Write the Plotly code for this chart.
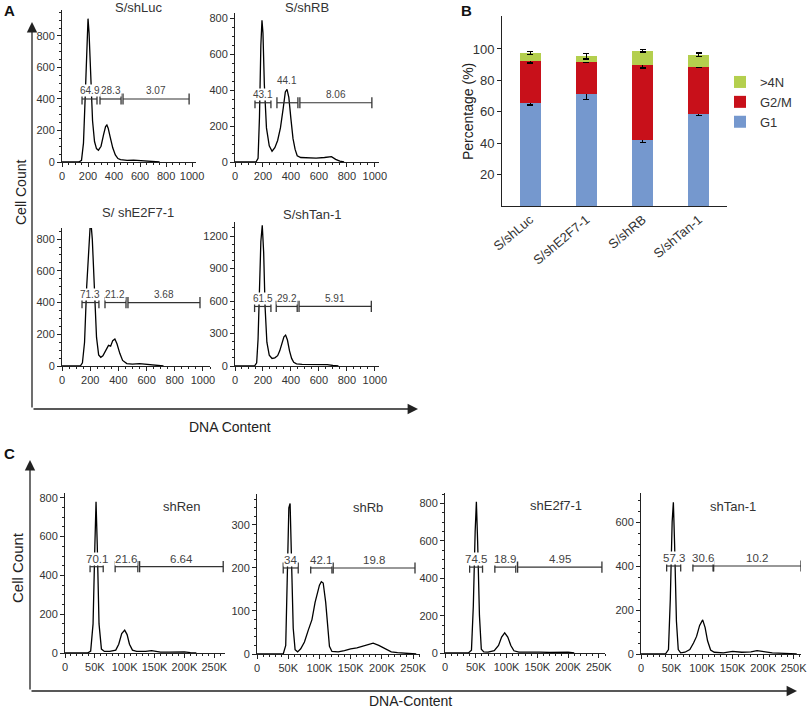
import plotly.graph_objects as go

W, H = 810, 709
FONT = "Liberation Sans, Arial, sans-serif"
AX = "#222222"
TXT = "#333333"

# ---------------- Panel A : DNA content histograms ----------------
A1_x = [0, 130, 150, 165, 180, 192, 200, 208, 220, 235, 250, 265, 280, 300, 320, 335, 345, 355, 370, 390, 410, 430, 450, 500, 550, 600, 650, 700, 750]
A1_y = [0, 0, 10, 120, 450, 800, 910, 820, 520, 260, 130, 85, 75, 100, 175, 225, 235, 215, 160, 90, 45, 22, 15, 10, 12, 8, 6, 3, 0]
A2_x = [0, 150, 165, 175, 185, 193, 200, 210, 225, 245, 265, 285, 305, 325, 345, 360, 372, 385, 400, 415, 430, 445, 470, 520, 580, 640, 690, 720, 750, 780]
A2_y = [0, 0, 20, 250, 650, 790, 720, 430, 190, 90, 60, 80, 120, 190, 300, 390, 405, 360, 240, 130, 70, 35, 25, 22, 22, 25, 30, 15, 5, 0]
A3_x = [0, 130, 145, 160, 175, 190, 203, 215, 230, 245, 260, 275, 290, 310, 330, 345, 360, 375, 390, 410, 430, 460, 500, 550, 600, 650, 700, 720]
A3_y = [0, 0, 20, 150, 500, 830, 930, 800, 450, 180, 70, 55, 65, 95, 130, 125, 160, 170, 140, 80, 35, 15, 12, 15, 12, 8, 3, 0]
A4_x = [0, 140, 155, 165, 175, 185, 195, 205, 215, 228, 245, 265, 285, 305, 320, 335, 350, 362, 375, 390, 405, 420, 440, 480, 530, 600, 660, 700, 740]
A4_y = [0, 0, 30, 250, 700, 1150, 1300, 1050, 550, 220, 100, 70, 75, 95, 140, 210, 270, 285, 240, 140, 70, 35, 20, 15, 15, 12, 12, 5, 0]

A_titles = ["S/shLuc", "S/shRB", "S/ shE2F7-1", "S/shTan-1"]
A1_gates = [[154, 269], [292, 454], [469, 977]]
A2_gates = [[143, 257], [300, 450], [464, 979]]
A3_gates = [[142, 262], [305, 454], [468, 979]]
A4_gates = [[140, 257], [295, 445], [458, 975]]
A_gate_levels = [400, 330, 400, 550]
A1_labels = ["64.9", "28.3", "3.07"]
A2_labels = ["43.1", "44.1", "8.06"]
A3_labels = ["71.3", "21.2", "3.68"]
A4_labels = ["61.5", "29.2", "5.91"]

# ---------------- Panel B : stacked percentages ----------------
B_categories = ["S/shLuc", "S/shE2F7-1", "S/shRB", "S/shTan-1"]
B_G1 = [65.5, 71.5, 42.3, 58.5]
B_G2M = [27.1, 20.2, 47.3, 30.2]
B_4N = [4.8, 3.6, 9.3, 7.7]
B_G1_err = [1.2, 3.5, 2.0, 0.8]
B_G2M_err = [1.5, 0.5, 1.7, 0.6]
B_4N_err = [1.0, 1.7, 0.8, 1.0]

# ---------------- Panel C : DNA-content histograms (K units) ----------------
C1_x = [0, 38, 43, 47, 50, 52, 54, 57, 61, 66, 75, 85, 90, 95, 100, 104, 108, 113, 120, 135, 145, 150, 160, 175, 190, 200, 210, 220]
C1_y = [0, 0, 10, 150, 550, 780, 560, 150, 20, 8, 8, 15, 45, 100, 118, 95, 45, 15, 8, 8, 12, 10, 5, 5, 7, 6, 2, 0]
C2_x = [0, 42, 46, 49, 51, 53, 55, 58, 61, 65, 70, 76, 82, 88, 93, 97, 100, 103, 106, 110, 113, 116, 120, 130, 140, 150, 160, 170, 180, 186, 195, 205, 215, 225, 240, 255]
C2_y = [0, 0, 20, 200, 340, 350, 230, 60, 10, 5, 12, 28, 55, 80, 120, 145, 160, 168, 165, 120, 60, 18, 6, 5, 8, 12, 14, 18, 22, 25, 20, 12, 5, 3, 2, 0]
C3_x = [0, 38, 43, 46, 49, 51, 53, 56, 59, 63, 70, 80, 87, 92, 97, 102, 107, 112, 120, 135, 145, 155, 170, 185, 200, 210]
C3_y = [0, 0, 15, 250, 650, 810, 600, 200, 20, 6, 5, 12, 40, 85, 108, 85, 40, 12, 5, 5, 9, 5, 3, 5, 4, 0]
C4_x = [0, 40, 45, 48, 51, 53, 55, 58, 61, 65, 72, 80, 86, 91, 96, 101, 105, 109, 114, 120, 135, 150, 165, 180, 190, 200, 215, 235, 255]
C4_y = [0, 0, 20, 250, 600, 690, 500, 150, 20, 5, 8, 20, 50, 80, 130, 155, 120, 60, 18, 8, 5, 12, 8, 10, 15, 10, 5, 3, 0]

C_titles = ["shRen", "shRb", "shE2f7-1", "shTan-1"]
C1_gates = [[42, 64], [84, 122], [125, 265]]
C2_gates = [[42, 66], [86, 120], [122, 253]]
C3_gates = [[40, 61], [81, 115], [118, 255]]
C4_gates = [[42, 65], [85, 118], [119, 262]]
C_gate_levels = [445, 200, 460, 400]
C1_labels = ["70.1", "21.6", "6.64"]
C2_labels = ["34", "42.1", "19.8"]
C3_labels = ["74.5", "18.9", "4.95"]
C4_labels = ["57.3", "30.6", "10.2"]
C_tick_vals = [0, 50, 100, 150, 200, 250]
C_tick_text = ["0", "50K", "100K", "150K", "200K", "250K"]

fig = go.Figure()
layout = {}
annotations = []


def px(a):
    return a / W


def py(b):
    return 1 - b / H


def axname(i, k):
    return f"{k}axis" if i == 1 else f"{k}axis{i}"


def ref(i, k):
    return k if i == 1 else f"{k}{i}"


def hist_axes(i, xd, yd, xr, yr, ydtick, yminor, xtickvals=None, xticktext=None, xdtick=None, xminor=None, fsize=11):
    common = dict(showline=True, linecolor=AX, linewidth=1, ticks="outside", ticklen=4,
                  tickwidth=1, tickcolor=AX, showgrid=False, zeroline=False, automargin=False,
                  tickfont=dict(size=fsize, color=TXT, family=FONT))
    xa = dict(common, domain=[px(xd[0]), px(xd[1])], range=xr, anchor=ref(i, "y"),
              minor=dict(ticks="outside", ticklen=2, tickcolor=AX, tickmode="linear", tick0=0, dtick=xminor))
    if xtickvals is not None:
        xa.update(tickmode="array", tickvals=xtickvals, ticktext=xticktext)
    else:
        xa.update(tickmode="linear", tick0=0, dtick=xdtick)
    ya = dict(common, domain=[py(yd[1]), py(yd[0])], range=yr, anchor=ref(i, "x"),
              tickmode="linear", tick0=0, dtick=ydtick,
              minor=dict(ticks="outside", ticklen=2, tickcolor=AX, tickmode="linear", tick0=0, dtick=yminor))
    layout[axname(i, "x")] = xa
    layout[axname(i, "y")] = ya


def add_hist(i, xs, ys, gates, level, labels, lab_size, label_shift=None):
    fig.add_trace(go.Scatter(x=xs, y=ys, mode="lines", line=dict(color="black", width=1.3),
                             xaxis=ref(i, "x"), yaxis=ref(i, "y"), showlegend=False, hoverinfo="skip"))
    gx, gy = [], []
    for s, e in gates:
        gx += [s, e, None]
        gy += [level, level, None]
    fig.add_trace(go.Scatter(x=gx, y=gy, mode="lines+markers",
                             line=dict(color="#333333", width=1.2),
                             marker=dict(symbol="line-ns-open", size=8, line=dict(color="#333333", width=1.3)),
                             xaxis=ref(i, "x"), yaxis=ref(i, "y"), showlegend=False, hoverinfo="skip"))
    for k, ((s, e), lab) in enumerate(zip(gates, labels)):
        shift = 8
        if label_shift and k in label_shift:
            shift = label_shift[k]
        annotations.append(dict(x=(s + e) / 2, y=level, xref=ref(i, "x"), yref=ref(i, "y"),
                                text=lab, showarrow=False, yshift=shift, xanchor="center", yanchor="middle",
                                bgcolor="white", borderpad=0,
                                font=dict(size=lab_size, color="#444444", family=FONT)))


def paper_text(x0, y0, t, size, angle=0, color=TXT):
    annotations.append(dict(x=px(x0), y=py(y0), xref="paper", yref="paper", text=t, showarrow=False,
                            xanchor="center", yanchor="middle", textangle=angle,
                            font=dict(size=size, color=color, family=FONT)))


# ----- Panel A axes and traces -----
hist_axes(1, (62, 196), (10, 162), [0, 1030], [0, 965], 200, 50, xdtick=200, xminor=50)
hist_axes(2, (235, 379), (13, 162), [0, 1030], [0, 830], 200, 50, xdtick=200, xminor=50)
hist_axes(3, (62, 210), (228, 366), [0, 1050], [0, 870], 200, 50, xdtick=200, xminor=50)
hist_axes(4, (235, 379), (222, 366), [0, 1030], [0, 1330], 300, 75, xdtick=200, xminor=50)
add_hist(1, A1_x, A1_y, A1_gates, A_gate_levels[0], A1_labels, 10)
add_hist(2, A2_x, A2_y, A2_gates, A_gate_levels[1], A2_labels, 10, label_shift={1: 22})
add_hist(3, A3_x, A3_y, A3_gates, A_gate_levels[2], A3_labels, 10)
add_hist(4, A4_x, A4_y, A4_gates, A_gate_levels[3], A4_labels, 10)

for (x0, y0), t in zip([(138, 8), (307, 8), (138, 213), (312, 215)], A_titles):
    paper_text(x0, y0, t, 13)

# ----- Panel B -----
fig.add_trace(go.Bar(x=B_categories, y=B_G1, name="G1", marker=dict(color="#7598CE", line=dict(width=0)),
                     error_y=dict(type="data", array=B_G1_err, color="black", thickness=1.2, width=3),
                     width=0.375, xaxis="x5", yaxis="y5"))
fig.add_trace(go.Bar(x=B_categories, y=B_G2M, name="G2/M", marker=dict(color="#C8101A", line=dict(width=0)),
                     error_y=dict(type="data", array=B_G2M_err, color="black", thickness=1.2, width=3),
                     width=0.375, xaxis="x5", yaxis="y5"))
fig.add_trace(go.Bar(x=B_categories, y=B_4N, name=">4N", marker=dict(color="#B4CF4E", line=dict(width=0)),
                     error_y=dict(type="data", array=B_4N_err, color="black", thickness=1.2, width=3),
                     width=0.375, xaxis="x5", yaxis="y5"))
layout["xaxis5"] = dict(domain=[px(502), px(727)], range=[-0.5, 3.5], anchor="y5", showline=True,
                        linecolor=AX, linewidth=1, ticks="", tickangle=-40, showgrid=False, zeroline=False,
                        automargin=False, tickfont=dict(size=13, color=TXT, family=FONT),
                        categoryorder="array", categoryarray=B_categories)
layout["yaxis5"] = dict(domain=[py(206), py(16)], range=[0, 121], anchor="x5", showline=True, linecolor=AX,
                        linewidth=1, ticks="outside", ticklen=4, tickcolor=AX, tickvals=[20, 40, 60, 80, 100],
                        showgrid=False, zeroline=False, automargin=False,
                        tickfont=dict(size=13, color=TXT, family=FONT))

# ----- Panel C axes and traces -----
hist_axes(6, (65, 225), (493, 653), [0, 268], [0, 825], 200, 50, xtickvals=C_tick_vals, xticktext=C_tick_text, xminor=10)
hist_axes(7, (257, 420), (494, 654), [0, 261], [0, 372], 100, 20, xtickvals=C_tick_vals, xticktext=C_tick_text, xminor=10)
hist_axes(8, (445, 605), (493, 653), [0, 260], [0, 857], 200, 50, xtickvals=C_tick_vals, xticktext=C_tick_text, xminor=10)
hist_axes(9, (641, 801), (493, 654), [0, 262], [0, 732], 200, 50, xtickvals=C_tick_vals, xticktext=C_tick_text, xminor=10)
add_hist(6, C1_x, C1_y, C1_gates, C_gate_levels[0], C1_labels, 11.5)
add_hist(7, C2_x, C2_y, C2_gates, C_gate_levels[1], C2_labels, 11.5)
add_hist(8, C3_x, C3_y, C3_gates, C_gate_levels[2], C3_labels, 11.5)
add_hist(9, C4_x, C4_y, C4_gates, C_gate_levels[3], C4_labels, 11.5)

for (x0, y0), t in zip([(182, 506), (368, 507), (556, 505), (733, 506)], C_titles):
    paper_text(x0, y0, t, 13)


# ----- decorative big axes, labels, panel letters -----
def arrow(hx, hy, ax, ay):
    annotations.append(dict(x=px(hx), y=py(hy), xref="paper", yref="paper", ax=ax, ay=ay,
                            axref="pixel", ayref="pixel", text="", showarrow=True, arrowhead=2,
                            arrowsize=1.6, arrowwidth=1.3, arrowcolor=AX, standoff=0, startstandoff=0))


arrow(32, 22, 0, 387)
arrow(418, 409, -386, 0)
arrow(30, 460, 0, 231)
arrow(797, 691, -767, 0)

paper_text(9, 11, "<b>A</b>", 15, color="#111111")
paper_text(466, 11, "<b>B</b>", 15, color="#111111")
paper_text(9, 453, "<b>C</b>", 15, color="#111111")
paper_text(21, 193, "Cell Count", 14, -90, "#222222")
paper_text(230, 427, "DNA Content", 14, 0, "#222222")
paper_text(17, 568, "Cell Count", 15, -90, "#222222")
paper_text(410, 701, "DNA-Content", 14, 0, "#222222")
paper_text(468, 111, "Percentage (%)", 14, -90, "#222222")

layout.update(
    width=W, height=H, margin=dict(l=0, r=0, t=0, b=0, pad=0, autoexpand=False),
    paper_bgcolor="white", plot_bgcolor="white",
    barmode="stack", bargap=0.5,
    font=dict(family=FONT, color=TXT),
    legend=dict(x=px(720), y=py(67), xanchor="left", yanchor="top", traceorder="reversed",
                font=dict(size=13, color=TXT, family=FONT), bgcolor="rgba(0,0,0,0)",
                itemwidth=30, tracegroupgap=0),
    annotations=annotations,
)
fig.update_layout(**layout)
fig.write_html("out.html", config={"displayModeBar": False},
               post_script="document.body.style.margin='0px';")
